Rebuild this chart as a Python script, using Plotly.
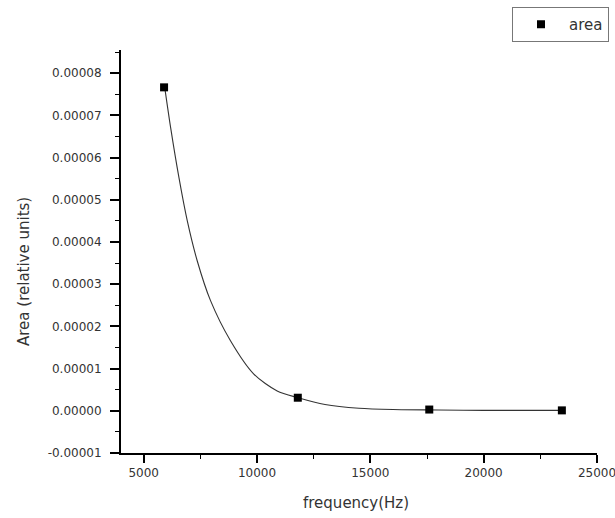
import plotly.graph_objects as go

# measured data points
freq = [5900, 11800, 17600, 23450]
area = [7.665e-5, 3.1e-6, 3e-7, 1e-7]

# fitted curve
fit_x = [5930, 6190, 6555, 6925, 7365, 7950, 8830, 9860, 10890, 11815,
         13000, 14500, 16000, 18000, 20000, 23450]
fit_y = [7.66e-5, 6.71e-5, 5.53e-5, 4.50e-5, 3.55e-5, 2.61e-5, 1.66e-5,
         0.87e-5, 0.47e-5, 0.31e-5, 0.15e-5, 0.06e-5, 0.03e-5, 0.02e-5,
         0.01e-5, 0.01e-5]

x_tick_vals = [5000, 10000, 15000, 20000, 25000]
x_tick_labels = ["5000", "10000", "15000", "20000", "25000"]
y_tick_vals = [-1e-5, 0, 1e-5, 2e-5, 3e-5, 4e-5, 5e-5, 6e-5, 7e-5, 8e-5]
y_tick_labels = ["-0.00001", "0.00000", "0.00001", "0.00002", "0.00003",
                 "0.00004", "0.00005", "0.00006", "0.00007", "0.00008"]

x_title = "frequency(Hz)"
y_title = "Area (relative units)"

font_family = "DejaVu Sans, Verdana, sans-serif"
text_color = "#333333"

fig = go.Figure()
fig.add_trace(go.Scatter(
    x=fit_x, y=fit_y, mode="lines",
    line=dict(color="#333333", width=1.1, shape="spline", smoothing=0.8),
    showlegend=False, hoverinfo="skip"))
fig.add_trace(go.Scatter(
    x=freq, y=area, mode="markers", name="area",
    marker=dict(symbol="square", size=8, color="black")))

fig.update_layout(
    width=615, height=518,
    margin=dict(l=121, r=18, t=50, b=65, autoexpand=False),
    paper_bgcolor="white", plot_bgcolor="white",
    font=dict(family=font_family, color=text_color, size=12),
    legend=dict(x=0.8214, y=1.1067, xanchor="left", yanchor="top",
                bordercolor="#777777", borderwidth=1, bgcolor="white",
                itemwidth=46,
                font=dict(size=15, color=text_color)),
    xaxis=dict(range=[4000, 25000], tickvals=x_tick_vals, ticktext=x_tick_labels,
               showgrid=False, zeroline=False, showline=True, linecolor="black", linewidth=2,
               ticks="outside", ticklen=8, tickwidth=1.5, tickcolor="black",
               ticklabeloverflow="allow",
               minor=dict(tickvals=[7500, 12500, 17500, 22500], ticks="outside",
                          ticklen=4, tickwidth=1.2, tickcolor="black"),
               tickfont=dict(size=12, color=text_color)),
    yaxis=dict(range=[-1e-5, 8.55e-5], tickvals=y_tick_vals, ticktext=y_tick_labels,
               showgrid=False, zeroline=False, showline=True, linecolor="black", linewidth=2,
               ticks="outside", ticklen=9, tickwidth=1.5, tickcolor="black",
               ticklabelstandoff=6,
               minor=dict(dtick=5e-6, ticks="outside", ticklen=4, tickwidth=1.2, tickcolor="black"),
               tickfont=dict(size=12, color=text_color)),
    annotations=[
        dict(text=x_title, xref="paper", yref="paper", x=0.4937, y=-0.124,
             xanchor="center", yanchor="middle", showarrow=False,
             font=dict(size=15, color=text_color)),
        dict(text=y_title, xref="paper", yref="paper", x=-0.2038, y=0.4516,
             xanchor="center", yanchor="middle", showarrow=False, textangle=-90,
             font=dict(size=15, color=text_color)),
    ],
)

fig.write_html(
    "out.html",
    config={"displayModeBar": False},
    post_script="document.body.style.margin='0';document.body.style.overflow='hidden';",
)
